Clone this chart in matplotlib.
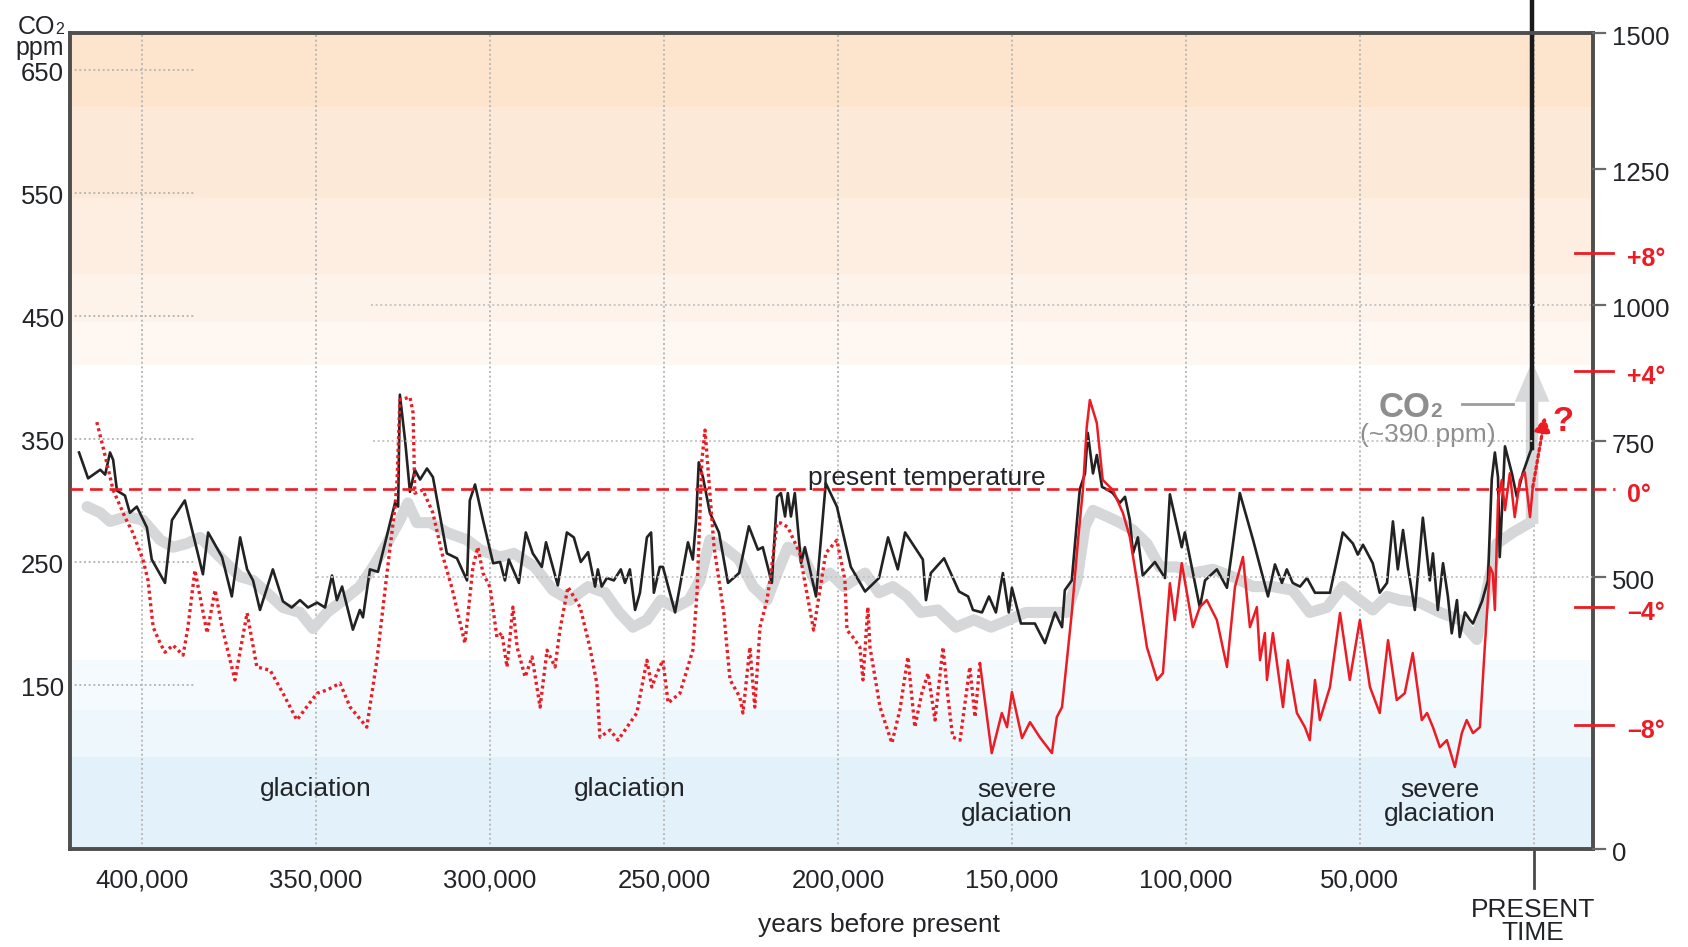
import numpy as np
import matplotlib.pyplot as plt
from matplotlib.transforms import offset_copy

plt.rcParams['font.family'] = ['Liberation Sans', 'DejaVu Sans']

W, H = 1688, 947

# ===== data: (thousand years before present, value) =====
co2_black = [
    (418.1, 339), (415.5, 318), (412.0, 325), (410.6, 321), (409.2, 339), (408.3, 333),
    (407.2, 308), (404.9, 304), (403.5, 290), (401.5, 295), (398.6, 278), (397.2, 252),
    (393.4, 233), (391.4, 284), (387.7, 300), (382.5, 240), (381.0, 274), (377.0, 254),
    (374.2, 222), (371.8, 270), (369.8, 244), (368.1, 235), (366.1, 211), (362.4, 244),
    (359.5, 218), (357.0, 213), (354.6, 219), (352.3, 213), (349.7, 217), (347.4, 213),
    (345.4, 239), (344.0, 219), (342.5, 230), (339.4, 195), (337.4, 211), (336.5, 205),
    (334.5, 244), (332.2, 242), (327.3, 298), (326.4, 295), (325.9, 386), (324.4, 349),
    (323.0, 307), (321.6, 325), (320.1, 317), (318.1, 326), (316.4, 319), (312.4, 257),
    (309.5, 253), (306.6, 235), (305.8, 300), (304.3, 313), (302.0, 284), (299.1, 249),
    (297.1, 250), (295.7, 235), (294.6, 252), (291.7, 233), (289.7, 274), (287.7, 257),
    (285.1, 246), (283.9, 266), (280.5, 231), (277.9, 274), (275.9, 270), (273.9, 250),
    (271.8, 258), (269.8, 230), (269.0, 244), (267.9, 230), (266.4, 237), (264.4, 235),
    (262.4, 244), (261.2, 233), (259.8, 244), (258.3, 211), (256.9, 225), (254.9, 270),
    (253.7, 274), (252.9, 225), (251.2, 246), (250.3, 246), (246.8, 209), (243.1, 266),
    (241.7, 252), (240.8, 283), (240.0, 331), (238.8, 319), (236.8, 290), (234.2, 274),
    (231.6, 233), (228.4, 241), (225.6, 279), (223.0, 260), (221.6, 262), (219.0, 233),
    (217.5, 303), (216.4, 306), (215.2, 287), (214.4, 306), (213.5, 287), (212.4, 306),
    (210.6, 249), (209.5, 262), (206.3, 222), (203.5, 314), (200.3, 295), (196.3, 246),
    (192.2, 226), (188.2, 237), (185.6, 270), (182.8, 244), (180.7, 274), (175.6, 252),
    (174.7, 219), (173.3, 241), (169.5, 253), (165.2, 226), (162.6, 222), (161.2, 211),
    (158.6, 209), (156.6, 222), (154.6, 209), (152.6, 241), (150.9, 209), (150.0, 229),
    (147.4, 200), (143.4, 200), (140.5, 184), (137.6, 209), (135.6, 197), (134.8, 227),
    (132.8, 235), (130.5, 309), (129.0, 322), (128.2, 355), (126.7, 322), (125.6, 337),
    (124.1, 311), (122.7, 309), (121.0, 306), (119.0, 298), (117.5, 303), (116.1, 284),
    (115.2, 257), (113.8, 270), (112.4, 239), (108.9, 250), (106.0, 237), (104.6, 305),
    (101.2, 262), (100.3, 274), (96.0, 213), (94.5, 235), (91.1, 244), (88.2, 229),
    (84.5, 306), (80.7, 268), (76.4, 222), (74.4, 248), (72.4, 233), (71.0, 244),
    (69.3, 233), (67.2, 230), (65.2, 237), (62.9, 225), (58.6, 225), (54.9, 274),
    (52.0, 265), (50.6, 256), (49.1, 264), (46.3, 249), (44.3, 225), (42.2, 233),
    (40.5, 283), (39.1, 244), (37.6, 276), (36.2, 246), (34.2, 211), (31.9, 286),
    (29.9, 235), (29.0, 257), (27.6, 211), (26.1, 249), (24.7, 222), (23.6, 192),
    (22.1, 219), (21.3, 189), (19.8, 209), (18.4, 203), (17.5, 200), (14.9, 218),
    (13.2, 235), (12.1, 317), (11.2, 339), (10.3, 319), (9.8, 254), (8.3, 344),
    (6.3, 322), (4.9, 303), (3.2, 322), (1.1, 339), (0.5, 343),
]
co2_modern = [(0.5, 343), (0.5, 707)]

co2_gray = [
    (415.8, 295), (412.0, 290), (409.2, 283), (404.3, 287), (399.7, 284), (394.8, 268),
    (391.1, 262), (387.1, 265), (383.3, 270), (377.6, 254), (371.8, 238), (368.1, 235),
    (364.1, 225), (359.5, 213), (354.6, 209), (350.9, 196), (346.8, 209), (342.2, 219),
    (337.4, 230), (333.6, 246), (329.6, 265), (325.9, 284), (323.6, 298), (321.0, 282),
    (317.2, 282), (312.4, 274), (306.6, 268), (302.9, 260), (297.1, 254), (293.1, 257),
    (287.1, 246), (281.9, 227), (277.0, 219), (271.8, 230), (266.9, 225), (262.9, 209),
    (258.9, 197), (254.9, 203), (250.9, 219), (246.8, 213), (242.8, 219), (239.7, 235),
    (236.8, 268), (232.8, 262), (228.4, 252), (224.4, 230), (220.4, 219), (217.5, 241),
    (214.4, 262), (210.4, 257), (206.3, 233), (202.3, 241), (198.3, 230), (192.2, 241),
    (188.2, 225), (184.2, 230), (180.2, 222), (176.2, 209), (171.3, 211), (166.1, 197),
    (160.9, 203), (156.0, 197), (150.9, 203), (146.0, 209), (140.0, 209), (134.2, 209),
    (131.3, 235), (129.0, 279), (126.7, 292), (122.7, 287), (119.0, 282), (115.2, 276),
    (111.2, 265), (107.5, 246), (102.6, 246), (98.0, 241), (92.2, 244), (86.5, 238),
    (80.7, 230), (75.0, 230), (69.3, 227), (64.4, 209), (59.5, 213), (54.9, 230),
    (50.0, 219), (46.3, 211), (42.2, 222), (38.5, 219), (32.8, 217), (27.0, 209),
    (21.3, 203), (16.4, 187), (13.5, 227), (10.6, 265), (6.0, 274), (1.1, 282),
]

temp_dotted = [
    (413.0, 2.27), (411.2, 1.42), (408.3, -0.03), (404.9, -0.95), (402.6, -1.49), (399.7, -2.41),
    (398.3, -3.08), (396.8, -4.68), (394.8, -5.22), (393.4, -5.53), (391.1, -5.29), (388.2, -5.63),
    (386.8, -4.68), (384.8, -2.75), (383.3, -3.66), (381.3, -4.88), (379.0, -3.42), (377.0, -4.68),
    (373.3, -6.47), (369.8, -4.2), (367.0, -6.03), (363.2, -6.14), (359.5, -6.92), (355.5, -7.83),
    (349.7, -6.92), (346.8, -6.81), (343.1, -6.58), (340.2, -7.39), (335.4, -8.07), (332.5, -5.8),
    (329.6, -2.85), (327.3, -0.61), (326.7, 0.31), (325.9, 3.02), (323.0, 3.12), (322.1, 2.58),
    (321.6, -0.14), (319.3, -0.03), (316.4, -0.81), (313.8, -2.17), (311.0, -3.32), (307.2, -5.22),
    (304.9, -2.64), (303.5, -1.97), (302.0, -2.85), (300.0, -3.32), (298.0, -5.02), (296.6, -4.88),
    (295.1, -6.03), (293.4, -4.0), (292.2, -5.36), (289.9, -6.37), (287.9, -5.69), (285.6, -7.39),
    (283.6, -5.46), (281.3, -6.03), (279.9, -4.78), (277.6, -3.32), (274.1, -4.0), (271.3, -5.36),
    (269.3, -6.58), (268.4, -8.41), (265.5, -8.17), (263.2, -8.51), (257.8, -7.59), (254.9, -5.8),
    (253.5, -6.71), (252.0, -6.24), (250.3, -5.8), (248.8, -7.25), (245.4, -6.92), (241.7, -5.46),
    (240.5, -3.53), (239.1, 0.98), (238.2, 2.0), (235.6, -1.97), (232.8, -4.2), (231.9, -5.36),
    (231.0, -6.47), (228.2, -7.05), (227.3, -7.59), (225.3, -5.36), (223.9, -7.39), (222.4, -4.68),
    (220.4, -3.76), (219.5, -3.08), (217.5, -1.15), (216.4, -1.15), (214.4, -1.29), (211.0, -2.17),
    (207.0, -4.78), (203.5, -2.17), (200.3, -1.73), (198.0, -3.08), (197.4, -4.78), (195.7, -5.02),
    (193.7, -5.36), (192.8, -6.47), (191.4, -4.0), (190.8, -5.36), (187.9, -7.39), (184.5, -8.61),
    (182.2, -7.49), (179.9, -5.69), (177.9, -8.07), (175.9, -6.92), (174.1, -6.24), (172.1, -7.83),
    (169.8, -5.36), (168.4, -7.05), (167.0, -8.41), (164.9, -8.51), (162.1, -6.03), (160.6, -7.73),
    (159.2, -5.9),
]

temp_solid = [
    (159.2, -5.9), (155.8, -8.95), (152.9, -7.59), (151.4, -8.07), (150.0, -6.88), (147.1, -8.44),
    (144.8, -7.9), (142.0, -8.41), (138.5, -8.95), (137.1, -7.73), (135.6, -7.39), (134.2, -5.8),
    (132.8, -4.2), (131.0, -1.73), (129.6, -0.03), (128.5, 2.1), (127.6, 3.02), (125.6, 2.24),
    (123.9, 0.31), (121.0, -0.03), (118.1, -0.81), (116.1, -1.63), (114.1, -3.08), (111.2, -5.36),
    (108.3, -6.47), (106.6, -6.24), (104.6, -3.19), (103.2, -4.44), (101.2, -2.51), (98.0, -4.68),
    (96.0, -4.0), (94.0, -3.76), (91.1, -4.44), (88.2, -6.03), (85.9, -3.32), (83.6, -2.3),
    (81.6, -4.68), (79.6, -4.0), (78.7, -5.8), (77.3, -4.88), (76.7, -6.47), (75.0, -4.88),
    (72.1, -7.39), (70.7, -5.8), (68.1, -7.59), (65.8, -8.07), (64.4, -8.51), (62.9, -6.47),
    (61.5, -7.83), (58.6, -6.71), (55.7, -4.2), (52.9, -6.47), (50.0, -4.44), (47.1, -6.71),
    (44.3, -7.59), (41.9, -5.12), (39.4, -7.15), (37.1, -6.92), (34.8, -5.56), (32.2, -7.83),
    (30.7, -7.59), (29.0, -8.07), (27.0, -8.75), (25.0, -8.51), (22.7, -9.42), (20.7, -8.27),
    (19.3, -7.83), (17.5, -8.27), (15.5, -8.07), (14.1, -5.36), (12.6, -2.64), (11.8, -2.85),
    (11.2, -4.1), (10.3, -0.37), (9.2, 0.31), (8.3, -0.71), (6.9, 0.54), (5.5, -0.95),
    (4.0, 0.31), (2.6, 0.58), (1.1, -0.95), (0.3, 0.07),
]

x_ticks = [400, 350, 300, 250, 200, 150, 100, 50]
x_labels = ["400,000", "350,000", "300,000", "250,000", "200,000", "150,000", "100,000", "50,000"]
ppm_ticks = [150, 250, 350, 450, 550, 650]
right_ticks = [0, 500, 750, 1000, 1250, 1500]
right_grid = [500, 750, 1000]
temp_ticks = [8, 4, -4, -8]
temp_labels = ["+8°", "+4°", "–4°", "–8°"]

RED = "#ec1c24"
TXT = "#222428"
GRID = "#b9b9b9"

# ===== figure / axes =====
fig = plt.figure(figsize=(W / 100, H / 100), dpi=100)
L, R, T, B = 70, 1593, 33, 849
ax = fig.add_axes([L / W, 1 - B / H, (R - L) / W, (B - T) / H])
ax_r = ax.twinx()
ax_t = ax.twinx()


def ax_x(px):  # pixel -> axes fraction (x)
    return (px - L) / (R - L)


def ax_y(py):
    return (B - py) / (B - T)


def down(tr, px):  # shift a transform down by px pixels
    return offset_copy(tr, fig=fig, x=0, y=-px, units="dots")


# background bands
bands = [
    (33, 108, "#fde5cd"), (108, 199, "#fde9d7"), (199, 275, "#feeee1"),
    (275, 323, "#fef3ea"), (323, 366, "#fff8f2"), (366, 660, "#ffffff"),
    (660, 710, "#f4fafd"), (710, 757, "#eef7fc"), (757, 849, "#e3f2fa"),
]
img = np.ones((B - T, 1, 3))
for y0, y1, c in bands:
    rgb = [int(c[i:i + 2], 16) / 255 for i in (1, 3, 5)]
    img[y0 - T:y1 - T, 0, :] = rgb
ax.imshow(img, extent=(0, 1, 0, 1), transform=ax.transAxes, aspect="auto",
          interpolation="nearest", zorder=0)

ax.set_xlim(420.7, -17.0)
ax.set_ylim(16.7, 680)
ax_r.set_ylim(0, 1500)
ax_t.set_ylim(-12.2, 15.46)

# grid
for xt in x_ticks + [0]:
    ax.axvline(xt, color=GRID, lw=1.4, ls=(0, (1, 1.4)), zorder=1)
for v in ppm_ticks:
    ax.plot([420.7, 384.8], [v, v], color=GRID, lw=1.4, ls=(0, (1, 1.4)), zorder=1)
for v, x0 in zip(right_grid, [349.7, 333.6, 334.2]):
    ax_r.plot([x0, -17.0], [v, v], color="#c6c6c6", lw=1.4, ls=(0, (1, 1.4)), zorder=1)

# series
g = np.array(co2_gray)
ax.plot(g[:, 0], g[:, 1], color="#d6d7d9", lw=8, solid_capstyle="round",
        solid_joinstyle="round", zorder=2)
ax.annotate("", xy=(0.5, 413), xytext=(0.5, 281),
            arrowprops=dict(arrowstyle="simple,head_length=1.45,head_width=1.25,tail_width=0.45",
                            mutation_scale=20, fc="#d8d9db", ec="none", shrinkA=0, shrinkB=0),
            zorder=2)
b = np.array(co2_black)
ax.plot(b[:, 0], b[:, 1], color="#222222", lw=1.9, zorder=3)
m = np.array(co2_modern)
ax.plot(m[:, 0], m[:, 1], color="#1a1a1a", lw=3.2, zorder=3, clip_on=False)

td = np.array(temp_dotted)
ax_t.plot(td[:, 0], td[:, 1], color=RED, lw=2.4, ls=(0, (0.9, 1.0)), zorder=3)
ts = np.array(temp_solid)
ax_t.plot(ts[:, 0], ts[:, 1], color=RED, lw=1.8, zorder=3)
ax_t.annotate("", xy=(-3.2, 2.45), xytext=(0.3, 0.07),
              arrowprops=dict(arrowstyle="-|>,head_length=0.55,head_width=0.3", color=RED,
                              lw=2.3, ls=(0, (0.9, 1.0)), mutation_scale=16, shrinkA=0, shrinkB=0))
ax_t.text(-8.5, 2.3, "?", color=RED, fontsize=25, fontweight="bold", ha="center", va="center")

# present temperature line
ax_t.plot([0, ax_x(1615)], [0, 0], transform=ax_t.get_yaxis_transform(), color=RED,
          lw=1.9, ls=(0, (4.8, 2.6)), clip_on=False, zorder=4)
ax.text(ax_x(927), ax_y(478), "present temperature", transform=ax.transAxes,
        fontsize=19, color=TXT, ha="center", va="center", zorder=6)

# CO2 label with connector
ax.plot([20.7, 6.0], [378.5, 378.5], color="#9d9d9d", lw=2, zorder=2)
ax.text(29.6, 368, "CO", fontsize=25, fontweight="bold", color="#8e8e8e",
        ha="right", va="baseline", zorder=6)
ax.text(29.9, 368, "2", fontsize=15, fontweight="bold", color="#8e8e8e",
        ha="left", va="baseline", zorder=6)
ax.text(30.6, 353, "(~390 ppm)", fontsize=19, color="#8e8e8e", ha="center",
        va="center", zorder=6)

# region labels
for cx, cy, s in [(316, 789, "glaciation"), (630, 789, "glaciation"),
                  (1017, 802, "severe\nglaciation"), (1440, 802, "severe\nglaciation")]:
    ax.text(ax_x(cx), ax_y(cy), s, transform=ax.transAxes, fontsize=19, color=TXT,
            ha="center", va="center", linespacing=0.95, zorder=6)

# spines / ticks
for a in (ax_r, ax_t):
    for sp in a.spines.values():
        sp.set_visible(False)
    a.set_yticks([])
for sp in ax.spines.values():
    sp.set_color("#4e4e4e")
    sp.set_linewidth(2.8)
    sp.set_zorder(7)
ax.set_xticks([])
ax.set_yticks([])

for xt, lab in zip(x_ticks, x_labels):
    ax.text(xt, ax_y(880), lab, transform=ax.get_xaxis_transform(), fontsize=18.5,
            color=TXT, ha="center", va="center")
ax.plot([0, 0], [0, ax_y(888)], transform=ax.get_xaxis_transform(), color="#4a4a4a",
        lw=2, clip_on=False)
fig.text(1533 / W, 1 - 898 / H, "PRESENT\nTIME", fontsize=19, color=TXT, ha="center",
         va="top", linespacing=0.95)
fig.text(879 / W, 1 - 925 / H, "years before present", fontsize=19, color=TXT,
         ha="center", va="center")

for v in ppm_ticks:
    ax.text(ax_x(64), v, str(v), transform=down(ax.get_yaxis_transform(), 4),
            fontsize=18.5, color=TXT, ha="right", va="center")
fig.text(55 / W, 1 - 34 / H, "CO", fontsize=18, color=TXT, ha="right", va="baseline")
fig.text(55 / W, 1 - 34 / H, "2", fontsize=11.5, color=TXT, ha="left", va="baseline")
fig.text(64 / W, 1 - 55 / H, "ppm", fontsize=18, color=TXT, ha="right", va="baseline")

for v in right_ticks:
    ax_r.plot([1.0, ax_x(1605)], [v, v], transform=ax_r.get_yaxis_transform(),
              color="#6a6a6a", lw=1.6, clip_on=False)
    ax_r.text(ax_x(1612), v, str(v), transform=down(ax_r.get_yaxis_transform(), 5),
              fontsize=18.5, color=TXT, ha="left", va="center")

for v, lab in zip(temp_ticks, temp_labels):
    ax_t.plot([ax_x(1575), ax_x(1613)], [v, v], transform=ax_t.get_yaxis_transform(),
              color=RED, lw=2, clip_on=False)
    ax_t.text(ax_x(1627), v, lab, transform=down(ax_t.get_yaxis_transform(), 6),
              fontsize=18, fontweight="bold", color=RED, ha="left", va="center")
ax_t.text(ax_x(1627), 0, "0°", transform=down(ax_t.get_yaxis_transform(), 6), fontsize=18,
          fontweight="bold", color=RED, ha="left", va="center")

fig.savefig("out.png", dpi=100)
plt.close(fig)
